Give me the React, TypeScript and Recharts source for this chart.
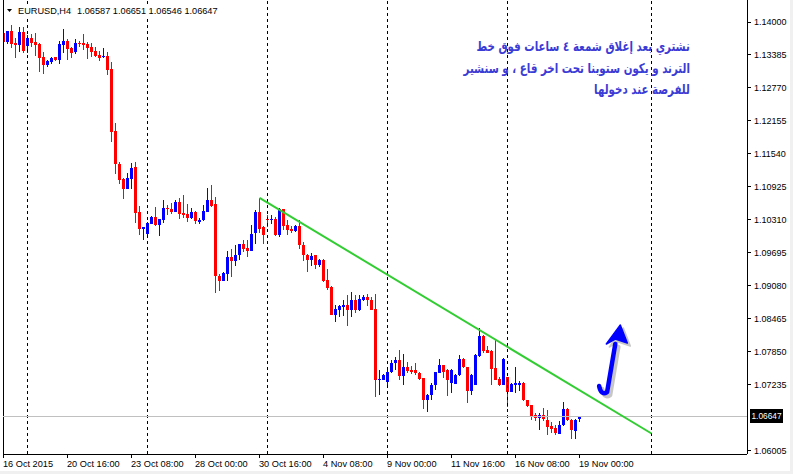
import { ComposedChart, Bar, XAxis, YAxis, ReferenceLine } from "recharts";

// EURUSD H4 candles (oldest first)
const opens = [
  1.13801, 1.13627, 1.13832, 1.13614, 1.13571, 1.13814, 1.13553, 1.13702, 1.13627, 1.13590,
  1.13348, 1.13199, 1.13255, 1.13348, 1.13292, 1.13571, 1.13646, 1.13515, 1.13441, 1.13609,
  1.13609, 1.13590, 1.13534, 1.13460, 1.13385, 1.13342, 1.13366, 1.13124, 1.11969, 1.11354,
  1.11074, 1.10888, 1.11074, 1.11298, 1.10459, 1.10142, 1.10049, 1.10235, 1.10366, 1.10217,
  1.10310, 1.10534, 1.10515, 1.10459, 1.10646, 1.10441, 1.10422, 1.10347, 1.10459, 1.10273,
  1.10310, 1.10459, 1.10683, 1.10608, 1.09266, 1.09160, 1.09304, 1.09621, 1.09546, 1.09645,
  1.09863, 1.09788, 1.09732, 1.10068, 1.10459, 1.10180, 1.10329, 1.10297, 1.10329, 1.10018,
  1.10515, 1.10204, 1.10142, 1.10092, 1.10185, 1.09844, 1.09645, 1.09565, 1.09645, 1.09458,
  1.09565, 1.09179, 1.09061, 1.08540, 1.08633, 1.08676, 1.08713, 1.08633, 1.08806, 1.08620,
  1.08819, 1.08870, 1.08819, 1.08651, 1.07328, 1.07328, 1.07285, 1.07472, 1.07640, 1.07701,
  1.07390, 1.07565, 1.07502, 1.07502, 1.07453, 1.07360, 1.06943, 1.07036, 1.07222, 1.07453,
  1.07595, 1.07502, 1.07267, 1.07254, 1.07408, 1.07720, 1.07565, 1.07110, 1.07235, 1.07763,
  1.08135, 1.07874, 1.07856, 1.07547, 1.07347, 1.07235, 1.07379, 1.07099, 1.07235, 1.07235,
  1.07267, 1.06943, 1.06849, 1.06663, 1.06615, 1.06676, 1.06570, 1.06458, 1.06428, 1.06322,
  1.06490, 1.06788, 1.06583, 1.06365, 1.06587,
];
const highs = [
  1.13944, 1.13840, 1.13944, 1.13702, 1.13907, 1.13907, 1.13758, 1.13776, 1.13795, 1.13614,
  1.13441, 1.13292, 1.13348, 1.13353, 1.13652, 1.13870, 1.13683, 1.13540, 1.13683, 1.13646,
  1.13776, 1.13627, 1.13609, 1.13540, 1.13465, 1.13515, 1.13441, 1.13255, 1.12118, 1.11391,
  1.11093, 1.11186, 1.11372, 1.11391, 1.10571, 1.10180, 1.10273, 1.10385, 1.10552, 1.10329,
  1.10683, 1.10590, 1.10627, 1.10683, 1.10720, 1.10776, 1.10608, 1.10534, 1.10478, 1.10347,
  1.10590, 1.10906, 1.10962, 1.10739, 1.09304, 1.09328, 1.09719, 1.09770, 1.09844, 1.09863,
  1.09937, 1.09937, 1.10204, 1.10483, 1.10720, 1.10185, 1.10390, 1.10390, 1.10366, 1.10534,
  1.10520, 1.10310, 1.10185, 1.10204, 1.10297, 1.09900, 1.09676, 1.09695, 1.09650, 1.09583,
  1.09570, 1.09397, 1.09070, 1.08726, 1.08726, 1.08806, 1.08899, 1.08963, 1.08899, 1.08899,
  1.08899, 1.08931, 1.08870, 1.08931, 1.07515, 1.07440, 1.07565, 1.07701, 1.07752, 1.07887,
  1.07813, 1.07658, 1.07576, 1.07640, 1.07472, 1.07365, 1.07067, 1.07267, 1.07472, 1.07720,
  1.07608, 1.07533, 1.07533, 1.07425, 1.07794, 1.07733, 1.07570, 1.07440, 1.07813, 1.08292,
  1.08154, 1.07949, 1.07887, 1.08087, 1.07379, 1.07733, 1.07385, 1.07267, 1.07565, 1.07297,
  1.07285, 1.06956, 1.06855, 1.06708, 1.06708, 1.06801, 1.06769, 1.06540, 1.06490, 1.06551,
  1.06913, 1.06801, 1.06590, 1.06590, 1.06651,
];
const lows = [
  1.13571, 1.13590, 1.13521, 1.13335, 1.13447, 1.13428, 1.13422, 1.13540, 1.13366, 1.13074,
  1.13031, 1.13167, 1.13223, 1.13279, 1.13223, 1.13428, 1.13292, 1.13335, 1.13409, 1.13540,
  1.13478, 1.13316, 1.13353, 1.13353, 1.13279, 1.13335, 1.13012, 1.11769, 1.11167, 1.10981,
  1.10701, 1.10880, 1.10888, 1.10254, 1.10031, 1.09937, 1.10031, 1.10230, 1.10198, 1.10012,
  1.10254, 1.10403, 1.10422, 1.10455, 1.10329, 1.10347, 1.10273, 1.10329, 1.10235, 1.10235,
  1.10291, 1.10455, 1.10552, 1.08955, 1.08993, 1.09155, 1.09155, 1.09248, 1.09458, 1.09565,
  1.09714, 1.09626, 1.09728, 1.09844, 1.10068, 1.09844, 1.10174, 1.10217, 1.10010, 1.09988,
  1.10124, 1.10031, 1.10049, 1.10081, 1.09751, 1.09552, 1.09347, 1.09458, 1.09397, 1.09428,
  1.09149, 1.09005, 1.08520, 1.08415, 1.08502, 1.08502, 1.08322, 1.08502, 1.08571, 1.08601,
  1.08788, 1.08713, 1.08620, 1.07006, 1.07049, 1.07320, 1.07173, 1.07453, 1.07515, 1.07328,
  1.07235, 1.07453, 1.07421, 1.07408, 1.07328, 1.06788, 1.06726, 1.06943, 1.07142, 1.07450,
  1.07360, 1.07036, 1.07080, 1.07250, 1.07405, 1.07547, 1.06894, 1.07049, 1.07230, 1.07760,
  1.07826, 1.07813, 1.07235, 1.07315, 1.07203, 1.07230, 1.06830, 1.07095, 1.07080, 1.07110,
  1.06924, 1.06819, 1.06583, 1.06551, 1.06397, 1.06551, 1.06303, 1.06335, 1.06303, 1.06303,
  1.06458, 1.06551, 1.06210, 1.06210, 1.06546,
];
const closes = [
  1.13633, 1.13832, 1.13590, 1.13571, 1.13814, 1.13460, 1.13702, 1.13614, 1.13571, 1.13335,
  1.13199, 1.13273, 1.13329, 1.13292, 1.13590, 1.13646, 1.13497, 1.13422, 1.13609, 1.13590,
  1.13571, 1.13515, 1.13441, 1.13366, 1.13335, 1.13366, 1.13105, 1.11956, 1.11354, 1.11055,
  1.10888, 1.11093, 1.11279, 1.10441, 1.10142, 1.10180, 1.10254, 1.10366, 1.10217, 1.10329,
  1.10534, 1.10515, 1.10459, 1.10646, 1.10422, 1.10403, 1.10347, 1.10459, 1.10291, 1.10310,
  1.10478, 1.10683, 1.10571, 1.09254, 1.09160, 1.09322, 1.09621, 1.09533, 1.09658, 1.09863,
  1.09770, 1.09732, 1.10049, 1.10459, 1.10142, 1.10031, 1.10297, 1.10329, 1.10018, 1.10515,
  1.10185, 1.10124, 1.10092, 1.10185, 1.09831, 1.09645, 1.09565, 1.09626, 1.09458, 1.09565,
  1.09160, 1.09037, 1.08527, 1.08651, 1.08694, 1.08713, 1.08633, 1.08806, 1.08620, 1.08838,
  1.08870, 1.08806, 1.08633, 1.07328, 1.07347, 1.07408, 1.07472, 1.07640, 1.07701, 1.07390,
  1.07565, 1.07483, 1.07472, 1.07453, 1.07347, 1.06943, 1.07049, 1.07235, 1.07472, 1.07595,
  1.07472, 1.07315, 1.07515, 1.07421, 1.07720, 1.07565, 1.07110, 1.07408, 1.07782, 1.08135,
  1.07856, 1.07826, 1.07533, 1.07328, 1.07235, 1.07720, 1.07099, 1.07254, 1.07267, 1.07267,
  1.06943, 1.06830, 1.06645, 1.06615, 1.06676, 1.06602, 1.06447, 1.06397, 1.06335, 1.06490,
  1.06788, 1.06583, 1.06384, 1.06583, 1.06647,
];

const tickBars = [0, 16, 32, 48, 64, 80, 96, 112, 128, 144];
const tickLabels = [
  "16 Oct 2015", "20 Oct 16:00", "23 Oct 08:00", "28 Oct 00:00", "30 Oct 16:00",
  "4 Nov 08:00", "9 Nov 00:00", "11 Nov 16:00", "16 Nov 08:00", "19 Nov 00:00",
];
const gridBars = [6, 36, 66, 96, 126, 162];
const priceTicks = [
  1.14, 1.13385, 1.1277, 1.12155, 1.1154, 1.10925, 1.1031,
  1.09695, 1.0908, 1.08465, 1.0785, 1.07235, 1.06005,
];
const lastPrice = 1.06647;
const headerSymbol = "EURUSD,H4";
const headerOhlc = "1.06587 1.06651 1.06546 1.06647";
const trendStart = { bar: 64, price: 1.1072 };
const trendEnd = { bar: 162, price: 1.06322 };
const arrowTail = { bar: 148.9, price: 1.07208 };
const arrowTip = { bar: 154.2, price: 1.08347 };
const noteLines = [
  "نشتري بعد إغلاق شمعة ٤ ساعات فوق خط",
  "الترند و يكون ستوبنا تحت اخر قاع ، و سنشير",
  "للفرصة عند دخولها",
];

const X_MIN = -0.125;
const X_MAX = 185.875;
const Y_MIN = 1.059397;
const Y_MAX = 1.144105;
const FONT = '"Liberation Sans", Arial, sans-serif';

const rows = opens.map((o, i) => ({
  bar: i,
  open: o,
  high: highs[i],
  low: lows[i],
  close: closes[i],
}));

function Candle(props: any) {
  const { x, y, width, height, payload } = props;
  if (!payload) return null;
  const { open, high, low, close } = payload;
  const top = Math.min(y, y + height);
  const h = Math.abs(height);
  const span = high - low || 1;
  const py = (p: number) => top + ((high - p) / span) * h;
  const cx = x + width / 2;
  const left = Math.round(cx - 1.5);
  const color = close >= open ? "#0000FF" : "#FF0000";
  const bTop = Math.round(py(Math.max(open, close)));
  const bBot = Math.round(py(Math.min(open, close)));
  return (
    <g shapeRendering="crispEdges">
      <rect x={left + 1} y={Math.round(top)} width={1} height={Math.max(1, Math.round(h))} fill={color} />
      <rect x={left} y={bTop} width={3} height={Math.max(1, bBot - bTop)} fill={color} />
    </g>
  );
}

function TimeTick(props: any) {
  const { x, y, payload } = props;
  const idx = tickBars.indexOf(payload.value);
  const px = Math.floor(x) + 0.5;
  return (
    <g>
      <line x1={px} y1={y} x2={px} y2={y + 4} stroke="#000" shapeRendering="crispEdges" />
      <text x={x - 0.5} y={y + 13} fontSize={9.2} fontFamily={FONT} fill="#000" textAnchor="start">
        {tickLabels[idx]}
      </text>
    </g>
  );
}

function PriceTick(props: any) {
  const { x, y, payload } = props;
  const py = Math.floor(y) + 0.5;
  return (
    <g>
      <line x1={x} y1={py} x2={x + 4} y2={py} stroke="#000" shapeRendering="crispEdges" />
      <text x={x + 7} y={y + 3.3} fontSize={9} fontFamily={FONT} fill="#000" textAnchor="start">
        {payload.value.toFixed(5)}
      </text>
    </g>
  );
}

function LastPriceLabel(props: any) {
  const { viewBox } = props;
  if (!viewBox) return null;
  const right = viewBox.x + viewBox.width;
  const y = viewBox.y;
  return (
    <g>
      <rect x={right + 3} y={y - 7} width={33} height={14} fill="#000" shapeRendering="crispEdges" />
      <text x={right + 4.5} y={y + 3.2} fontSize={8.3} fontFamily={FONT} fill="#fff">
        {lastPrice.toFixed(5)}
      </text>
    </g>
  );
}

function ArrowShape(props: any) {
  const { x1, y1, x2, y2 } = props;
  if (x1 == null) return null;
  const draw = (dx: number, dy: number, color: string, opacity: number) => (
    <g opacity={opacity} transform={`translate(${dx},${dy})`}>
      <path
        d={`M${x1} ${y1} Q${x1 + 2} ${y1 + 10} ${x1 + 8} ${y1 + 6} L${x2 - 5} ${y2 + 19}`}
        stroke={color}
        strokeWidth={4.5}
        strokeLinecap="round"
        strokeLinejoin="round"
        fill="none"
      />
      <polygon
        points={`${x2},${y2} ${x2 - 14},${y2 + 19} ${x2 - 5},${y2 + 14} ${x2 + 7},${y2 + 18}`}
        fill={color}
        stroke={color}
        strokeWidth={1.5}
        strokeLinejoin="round"
      />
    </g>
  );
  return (
    <g>
      {draw(3, 3, "#9a9a9a", 0.55)}
      {draw(0, 0, "#0000FF", 1)}
    </g>
  );
}

export default function App() {
  return (
    <div style={{ position: "absolute", left: 0, top: 0, width: 793, height: 474, background: "#fff", overflow: "hidden" }}>
      <ComposedChart width={793} height={474} data={rows} margin={{ top: 0, right: 0, bottom: 0, left: 3 }}>
        <XAxis
          type="number"
          dataKey="bar"
          domain={[X_MIN, X_MAX]}
          ticks={tickBars}
          interval={0}
          height={20}
          tickSize={0}
          tickMargin={0}
          allowDataOverflow
          axisLine={{ stroke: "#000", shapeRendering: "crispEdges" }}
          tickLine={false}
          tick={<TimeTick />}
        />
        <YAxis
          type="number"
          orientation="right"
          domain={[Y_MIN, Y_MAX]}
          ticks={priceTicks}
          interval={0}
          width={46}
          tickSize={0}
          tickMargin={0}
          allowDataOverflow
          axisLine={{ stroke: "#000", shapeRendering: "crispEdges" }}
          tickLine={false}
          tick={<PriceTick />}
        />
        <ReferenceLine x={X_MIN} stroke="#000" shapeRendering="crispEdges" />
        {gridBars.map((b) => (
          <ReferenceLine key={b} x={b} stroke="#000" strokeDasharray="3 3" shapeRendering="crispEdges" />
        ))}
        <ReferenceLine y={lastPrice} stroke="#C0C0C0" shapeRendering="crispEdges" label={<LastPriceLabel />} />
        <Bar
          dataKey={(d: any) => [d.low, d.high]}
          barSize={3}
          shape={<Candle />}
          isAnimationActive={false}
        />
        <ReferenceLine
          segment={[
            { x: trendStart.bar, y: trendStart.price },
            { x: trendEnd.bar, y: trendEnd.price },
          ]}
          stroke="#32CD32"
          strokeWidth={2}
        />
        <ReferenceLine
          segment={[
            { x: arrowTail.bar, y: arrowTail.price },
            { x: arrowTip.bar, y: arrowTip.price },
          ]}
          shape={(p: any) => <ArrowShape {...p} />}
        />
      </ComposedChart>

      <div
        style={{
          position: "absolute", left: 4, top: 4, height: 14, paddingRight: 4,
          background: "#fff", display: "flex", alignItems: "center",
          fontFamily: FONT, fontSize: 9.2, color: "#000", whiteSpace: "pre",
        }}
      >
        <svg width={14} height={14}>
          <polygon points="3,5 8,5 5.5,8" fill="#000" />
        </svg>
        <span>{headerSymbol}</span>
        <span style={{ marginLeft: 6 }}>{headerOhlc}</span>
      </div>

      <div
        style={{
          position: "absolute", right: 103, top: 36, direction: "rtl", textAlign: "right",
          fontFamily: '"DejaVu Sans", sans-serif', fontWeight: "bold", fontSize: 13.5,
          lineHeight: "21.5px", color: "#3b3bd6", whiteSpace: "nowrap",
          transform: "scaleX(0.76)", transformOrigin: "right top",
        }}
      >
        {noteLines.map((l) => (
          <div key={l}>{l}</div>
        ))}
      </div>

      <div style={{ position: "absolute", left: 0, top: 471, width: 793, height: 3, background: "#f0f0f0" }} />
      <div style={{ position: "absolute", left: 790, top: 0, width: 3, height: 474, background: "#f0f0f0" }} />
    </div>
  );
}
